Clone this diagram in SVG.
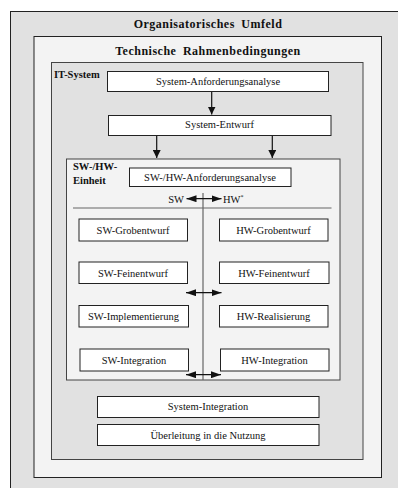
<svg xmlns="http://www.w3.org/2000/svg" width="398" height="488" viewBox="0 0 398 488">
<style>
.frame{stroke:#222;stroke-width:1}
.box{fill:#fff;stroke:#222;stroke-width:1}
.t{font-family:"Liberation Serif","Times New Roman",serif;font-size:10.5px;fill:#111;text-anchor:middle}
.b{font-family:"Liberation Serif","Times New Roman",serif;font-weight:bold;fill:#111}
.title{font-size:12px;text-anchor:middle;letter-spacing:0.5px;word-spacing:3px}
.lab{font-size:10.5px}
.sep{stroke:#666;stroke-width:1.2;fill:none}
.con{stroke:#111;stroke-width:1.2;fill:none}
</style>
<defs>
<marker id="ah" viewBox="0 0 10 10" refX="10" refY="5" markerWidth="8" markerHeight="8" markerUnits="userSpaceOnUse" orient="auto-start-reverse">
<path d="M0,0 L10,5 L0,10 z" fill="#111"/>
</marker>
<marker id="ahh" viewBox="0 0 10 10" refX="10" refY="5" markerWidth="10" markerHeight="7" markerUnits="userSpaceOnUse" orient="auto-start-reverse" preserveAspectRatio="none">
<path d="M0,0 L10,5 L0,10 z" fill="#111"/>
</marker>
</defs>
<rect width="398" height="488" fill="#fff"/>
<g id="org-umfeld">
<rect class="frame" x="10.5" y="11.5" width="400" height="490" fill="#e1e1e1"/>
<text class="b title" x="208" y="28">Organisatorisches Umfeld</text>
</g>
<g id="tech-rahmen">
<rect class="frame" x="34" y="36.5" width="347.5" height="441" fill="#f3f3f3"/>
<text class="b title" x="208" y="55">Technische Rahmenbedingungen</text>
</g>
<g id="it-system">
<rect x="51.5" y="62.5" width="311.5" height="397" fill="#e1e1e1" stroke="#444" stroke-width="1"/>
<text class="b lab" x="54" y="77.5">IT-System</text>
</g>
<g id="sys-anf">
<rect class="box" x="107.5" y="71.5" width="221" height="20"/>
<text class="t" x="218" y="84.5">System-Anforderungsanalyse</text>
</g>
<g id="sys-entwurf">
<rect class="box" x="108.5" y="115.5" width="222.5" height="20"/>
<text class="t" x="219.5" y="128">System-Entwurf</text>
</g>
<g id="swhw-einheit">
<rect x="66.5" y="159" width="273.5" height="221" fill="#f3f3f3" stroke="#444" stroke-width="1"/>
<text class="b lab" x="73" y="170">SW-/HW-</text>
<text class="b lab" x="73" y="183.5">Einheit</text>
<line class="sep" x1="73" y1="208" x2="331.5" y2="208"/>
<line class="sep" x1="203" y1="193" x2="203" y2="380"/>
<text class="t" x="184" y="202.5" text-anchor="end" style="text-anchor:end">SW</text>
<text class="t" x="223" y="202.5" style="text-anchor:start">HW<tspan font-size="6" dy="-4">*</tspan></text>
</g>
<g id="swhw-anf">
<rect class="box" x="129.5" y="168" width="161.5" height="18.5"/>
<text class="t" x="210" y="181">SW-/HW-Anforderungsanalyse</text>
</g>
<g id="sw-grob">
<rect class="box" x="79" y="219" width="108.5" height="22"/>
<text class="t" x="133" y="233.5">SW-Grobentwurf</text>
</g>
<g id="hw-grob">
<rect class="box" x="219.5" y="219" width="108.5" height="22"/>
<text class="t" x="273.5" y="233.5">HW-Grobentwurf</text>
</g>
<g id="sw-fein">
<rect class="box" x="79" y="262" width="108.5" height="21.5"/>
<text class="t" x="133" y="276.5">SW-Feinentwurf</text>
</g>
<g id="hw-fein">
<rect class="box" x="219.5" y="262" width="109.5" height="21.5"/>
<text class="t" x="274" y="276.5">HW-Feinentwurf</text>
</g>
<g id="sw-impl">
<rect class="box" x="79" y="305.5" width="109.5" height="21.5"/>
<text class="t" x="133.5" y="320">SW-Implementierung</text>
</g>
<g id="hw-real">
<rect class="box" x="219.5" y="305.5" width="108.5" height="21.5"/>
<text class="t" x="273.5" y="320">HW-Realisierung</text>
</g>
<g id="sw-int">
<rect class="box" x="80" y="349" width="108.5" height="22"/>
<text class="t" x="134" y="363.5">SW-Integration</text>
</g>
<g id="hw-int">
<rect class="box" x="220.5" y="349" width="108.5" height="22"/>
<text class="t" x="274.5" y="363.5">HW-Integration</text>
</g>
<g id="sys-int">
<rect class="box" x="97.5" y="396.5" width="221.5" height="21"/>
<text class="t" x="208" y="410">System-Integration</text>
</g>
<g id="ueberleitung">
<rect class="box" x="97.5" y="424.5" width="221.5" height="21"/>
<text class="t" x="208" y="439">Überleitung in die Nutzung</text>
</g>
<g id="connectors">
<line class="con" x1="211.7" y1="92" x2="211.7" y2="114.5" marker-end="url(#ah)"/>
<line class="con" x1="156.7" y1="136" x2="156.7" y2="158" marker-end="url(#ah)"/>
<line class="con" x1="272.3" y1="136" x2="272.3" y2="158" marker-end="url(#ah)"/>
<line class="con" x1="186.5" y1="198.7" x2="221.5" y2="198.7" marker-start="url(#ahh)" marker-end="url(#ahh)"/>
<line class="con" x1="186" y1="292.7" x2="221.5" y2="292.7" marker-start="url(#ahh)" marker-end="url(#ahh)"/>
<line class="con" x1="186" y1="374.7" x2="221" y2="374.7" marker-start="url(#ahh)" marker-end="url(#ahh)"/>
</g>
</svg>
